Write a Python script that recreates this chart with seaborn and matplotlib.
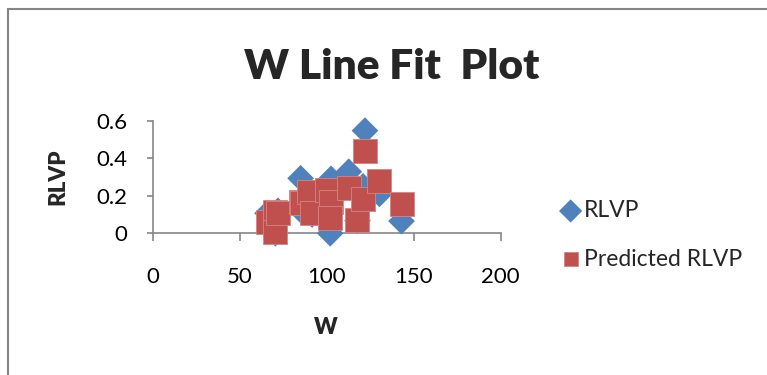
import matplotlib
matplotlib.use("Agg")
import matplotlib.pyplot as plt
from matplotlib.patches import Rectangle
import seaborn as sns

# Observed and predicted RLVP against W
w_values = [66, 70, 70.5, 72, 85, 86, 90, 91.6, 100, 102.5, 102, 112.7, 117.7, 120.9, 122, 130.3, 143]
rlvp = [0.107, 0.08, 0.0, 0.12, 0.293, 0.115, 0.15, 0.10, 0.20, 0.29, 0.0, 0.328, 0.068, 0.25, 0.547, 0.21, 0.065]
predicted_rlvp = [0.062, 0.115, 0.009, 0.11, 0.168, 0.16, 0.222, 0.107, 0.231, 0.168, 0.082, 0.24, 0.071, 0.181, 0.44, 0.279, 0.155]

x_ticks = [0, 50, 100, 150, 200]
y_ticks = [0, 0.2, 0.4, 0.6]
y_tick_labels = ["0", "0.2", "0.4", "0.6"]

sns.set_style("ticks")
plt.rcParams["font.family"] = ["Lato", "DejaVu Sans"]

W, H = 767, 375
fig = plt.figure(figsize=(W / 100, H / 100), dpi=100)
fig.patch.set_facecolor("white")

# chart-area frame (open at right and bottom)
fig.patches.append(Rectangle((7.5 / W, -0.2), 1.2, 1.2 - 8.5 / H,
                             transform=fig.transFigure, fill=False,
                             edgecolor="#868686", linewidth=1.5))

x0, x1 = 152.7, 500.7
y0, y1 = 233.3, 120.7
ax = fig.add_axes([x0 / W, 1 - y0 / H, (x1 - x0) / W, (y0 - y1) / H])
ax.set_facecolor("none")

sns.scatterplot(x=w_values, y=rlvp, marker="D", s=185, color="#4F81BD",
                edgecolor="none", linewidth=0, ax=ax, label="RLVP", zorder=3)
sns.scatterplot(x=w_values, y=predicted_rlvp, marker="s", s=290, color="#C0504D",
                edgecolor="#D48583", linewidth=0.6, ax=ax, label="Predicted RLVP", zorder=4)
for coll in ax.collections:
    coll.set_clip_on(False)

ax.set_xlim(0, 200)
ax.set_ylim(0, 0.6)
ax.set_xticks(x_ticks)
ax.set_xticklabels([str(t) for t in x_ticks])
ax.set_yticks(y_ticks)
ax.set_yticklabels(y_tick_labels)
sns.despine(ax=ax)
for side in ("left", "bottom"):
    ax.spines[side].set_color("#868686")
    ax.spines[side].set_linewidth(1.2)
ax.tick_params(axis="x", direction="out", length=5.5, width=1.2, color="#868686",
               pad=19, labelsize=16, labelcolor="black")
ax.tick_params(axis="y", direction="out", length=4, width=1.2, color="#868686",
               pad=14, labelsize=16, labelcolor="black")
ax.set_xlabel("")
ax.set_ylabel("")

leg = ax.legend(loc="upper left", bbox_to_anchor=(558 / W, 1 - 200 / H),
                bbox_transform=fig.transFigure, frameon=False, fontsize=16.5,
                handletextpad=0.05, labelspacing=1.2, borderpad=0, borderaxespad=0,
                handlelength=1.1)
leg.legend_handles[0].set_sizes([140])
leg.legend_handles[1].set_sizes([115])

fig.text(392 / W, 1 - 79 / H, "W Line Fit  Plot", ha="center", va="baseline",
         fontsize=30.5, fontweight="heavy")
fig.text(57.5 / W, 1 - 177 / H, "RLVP", rotation=90, ha="center", va="center",
         fontsize=16, fontweight="heavy")
fig.text(326 / W, 1 - 327.5 / H, "W", ha="center", va="center",
         fontsize=16, fontweight="heavy")

fig.savefig("out.png", dpi=100)
